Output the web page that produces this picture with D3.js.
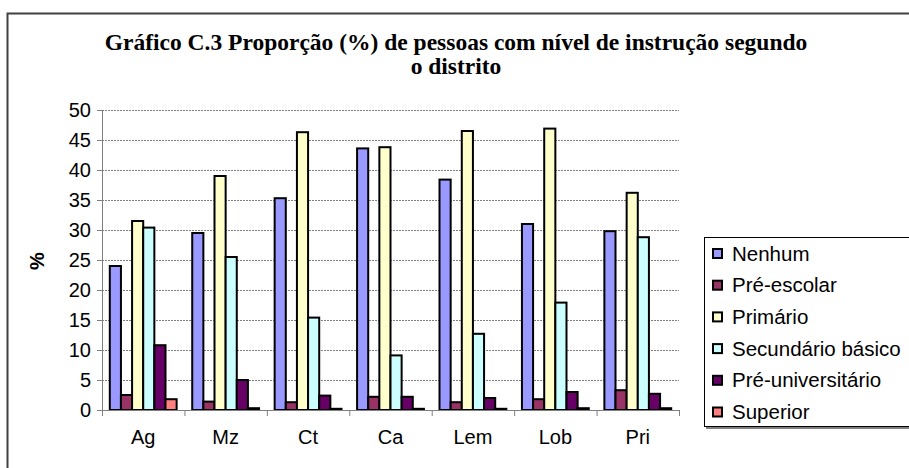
<!DOCTYPE html>
<html>
<head>
  <meta charset="utf-8">
  <title>Gráfico C.3</title>
  <script src="https://cdn.jsdelivr.net/npm/d3@7"></script>
  <style>
    body { margin: 0; background: #fff; }
    svg { display: block; }
  </style>
</head>
<body>
<script>
  // categorias (distritos)
  const districts = ["Ag", "Mz", "Ct", "Ca", "Lem", "Lob", "Pri"];
  // séries
  const series = ["Nenhum", "Pré-escolar", "Primário", "Secundário básico", "Pré-universitário", "Superior"];
  const colors = ["#9999ff", "#993366", "#ffffcc", "#ccffff", "#660066", "#ff8080"];

  const nenhum = [24.0, 29.5, 35.3, 43.6, 38.4, 31.0, 29.8];
  const preEscolar = [2.5, 1.4, 1.3, 2.2, 1.3, 1.8, 3.3];
  const primario = [31.5, 39.0, 46.3, 43.8, 46.5, 46.9, 36.2];
  const secundario = [30.4, 25.5, 15.4, 9.1, 12.7, 17.9, 28.8];
  const preUniv = [10.8, 5.0, 2.4, 2.2, 2.0, 3.0, 2.7];
  const superior = [1.8, 0.3, 0.2, 0.2, 0.2, 0.3, 0.3];
  const values = [nenhum, preEscolar, primario, secundario, preUniv, superior];

  const yTicks = [0, 5, 10, 15, 20, 25, 30, 35, 40, 45, 50];

  const W = 909, H = 468;
  const plotLeft = 102, plotRight = 679, plotTop = 110, plotBottom = 410;

  const svg = d3.select("body").append("svg")
    .attr("width", W)
    .attr("height", H);

  // moldura do gráfico
  svg.append("rect")
    .attr("x", 7.5).attr("y", 13.5)
    .attr("width", W + 20).attr("height", H + 20)
    .attr("fill", "#fff")
    .attr("stroke", "#404040")
    .attr("stroke-width", 2);

  // título
  const title = svg.append("text")
    .attr("text-anchor", "middle")
    .attr("font-family", "'Liberation Serif', 'Times New Roman', serif")
    .attr("font-weight", "bold")
    .attr("font-size", "23.5px")
    .attr("fill", "#000");
  title.append("tspan").attr("x", 456).attr("y", 50)
    .text("Gráfico C.3 Proporção (%) de pessoas com nível de instrução segundo");
  title.append("tspan").attr("x", 456).attr("y", 74)
    .text("o distrito");

  const xScale = d3.scaleBand()
    .domain(districts)
    .range([plotLeft, plotRight]);

  const gap = xScale.bandwidth() * 1.4 / 7.4 / 2;
  const xSub = d3.scaleBand()
    .domain(series)
    .range([gap, xScale.bandwidth() - gap]);

  const yScale = d3.scaleLinear()
    .domain([0, 50])
    .range([plotBottom, plotTop]);

  // linhas de grade
  svg.selectAll("line.grid")
    .data(yTicks.filter(d => d > 0))
    .enter()
    .append("line")
    .attr("class", "grid")
    .attr("x1", plotLeft).attr("x2", plotRight)
    .attr("y1", d => yScale(d) + 0.5).attr("y2", d => yScale(d) + 0.5)
    .attr("stroke", "#808080")
    .attr("stroke-dasharray", "2,1");

  // eixo y
  const yAxis = svg.append("g")
    .attr("transform", "translate(" + plotLeft + ",0)")
    .call(d3.axisLeft(yScale).tickValues(yTicks).tickSize(5).tickPadding(6));
  yAxis.selectAll("path, line").attr("stroke", "#808080");
  yAxis.selectAll("text")
    .attr("font-family", "'Liberation Sans', Arial, sans-serif")
    .attr("font-size", "20px")
    .attr("fill", "#000");

  // barras
  const groups = svg.selectAll("g.district")
    .data(districts)
    .enter()
    .append("g")
    .attr("class", "district")
    .attr("transform", d => "translate(" + xScale(d) + ",0)");

  groups.selectAll("rect")
    .data((d, i) => series.map((s, j) => ({ s: s, j: j, v: values[j][i] })))
    .enter()
    .append("rect")
    .attr("x", d => xSub(d.s))
    .attr("y", d => yScale(d.v))
    .attr("width", xSub.bandwidth())
    .attr("height", d => plotBottom - yScale(d.v))
    .attr("fill", d => colors[d.j])
    .attr("stroke", "#000")
    .attr("stroke-width", 2);

  // eixo x
  const xAxis = svg.append("g")
    .attr("transform", "translate(0," + plotBottom + ")")
    .call(d3.axisBottom(xScale).tickSize(0).tickPadding(20));
  xAxis.select("path").attr("stroke", "#808080");
  xAxis.selectAll("text")
    .attr("font-family", "'Liberation Sans', Arial, sans-serif")
    .attr("font-size", "20px")
    .attr("fill", "#000");
  svg.selectAll("line.xtick")
    .data(districts.concat(["end"]))
    .enter()
    .append("line")
    .attr("class", "xtick")
    .attr("x1", (d, i) => plotLeft + i * xScale.step() + 0.5)
    .attr("x2", (d, i) => plotLeft + i * xScale.step() + 0.5)
    .attr("y1", plotBottom).attr("y2", plotBottom + 6)
    .attr("stroke", "#808080");

  // título do eixo y
  svg.append("text")
    .attr("transform", "translate(44,261) rotate(-90)")
    .attr("text-anchor", "middle")
    .attr("font-family", "'Liberation Sans', Arial, sans-serif")
    .attr("font-weight", "bold")
    .attr("font-size", "20px")
    .text("%");

  // legenda
  const lg = svg.append("g");
  lg.append("rect")
    .attr("x", 706).attr("y", 239)
    .attr("width", 220).attr("height", 190)
    .attr("fill", "#808080");
  lg.append("rect")
    .attr("x", 704.5).attr("y", 237.5)
    .attr("width", 220).attr("height", 189)
    .attr("fill", "#fff")
    .attr("stroke", "#000");

  const items = lg.selectAll("g.item")
    .data(series)
    .enter()
    .append("g")
    .attr("class", "item")
    .attr("transform", (d, i) => "translate(0," + (253.5 + i * 31.7) + ")");
  items.append("rect")
    .attr("x", 713).attr("y", -4.5)
    .attr("width", 9).attr("height", 9)
    .attr("fill", (d, i) => colors[i])
    .attr("stroke", "#000")
    .attr("stroke-width", 2);
  items.append("text")
    .attr("x", 732).attr("y", 7)
    .attr("font-family", "'Liberation Sans', Arial, sans-serif")
    .attr("font-size", "20.5px")
    .attr("fill", "#000")
    .text(d => d);
</script>
</body>
</html>
